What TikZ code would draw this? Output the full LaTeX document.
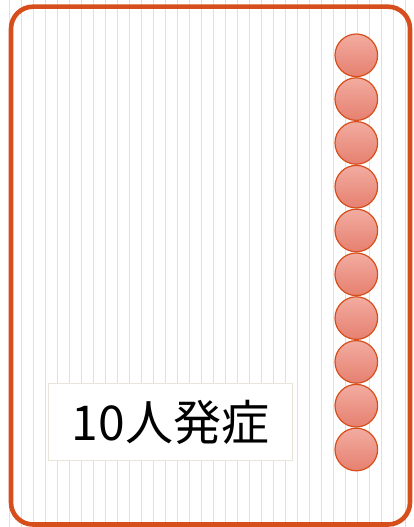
\documentclass[tikz,border=0pt]{standalone}
\usepackage{fontspec}
\newfontfamily\jpfont{Noto Sans CJK JP}
\usetikzlibrary{positioning}
\definecolor{frameline}{RGB}{214,78,27}
\definecolor{balltop}{RGB}{242,172,160}
\definecolor{ballbot}{RGB}{230,128,112}
\definecolor{ruleline}{RGB}{224,224,224}
\definecolor{boxline}{RGB}{232,228,216}

\begin{document}
\begin{tikzpicture}[x=1pt,y=-1pt,
  ball/.style={circle, draw=frameline, line width=1.2pt, top color=balltop,
    bottom color=ballbot, minimum size=42.6pt, inner sep=0pt},
  tag/.style={draw=boxline, line width=1pt, fill=white, minimum width=244pt,
    minimum height=77pt, font=\jpfont\fontsize{48}{52}\selectfont}]
\useasboundingbox (0,0) rectangle (413,527);
% vertical rules
\foreach \i in {0,...,33}
  \draw[ruleline, line width=1.3pt] (9.3+12*\i,0) -- (9.3+12*\i,527);
\draw[frameline, line width=4.6pt, rounded corners=22pt] (11,6.7) rectangle (410,524.5);

\node(c1)[ball] at (356.3,55.3) {};
\foreach \i [count=\j from 1] in {2,...,10}
  \node(c\i)[ball, below = 0pt of c\j] {};

\node(tag)[tag] at (170.4,422) {10人発症};
\end{tikzpicture}
\end{document}
